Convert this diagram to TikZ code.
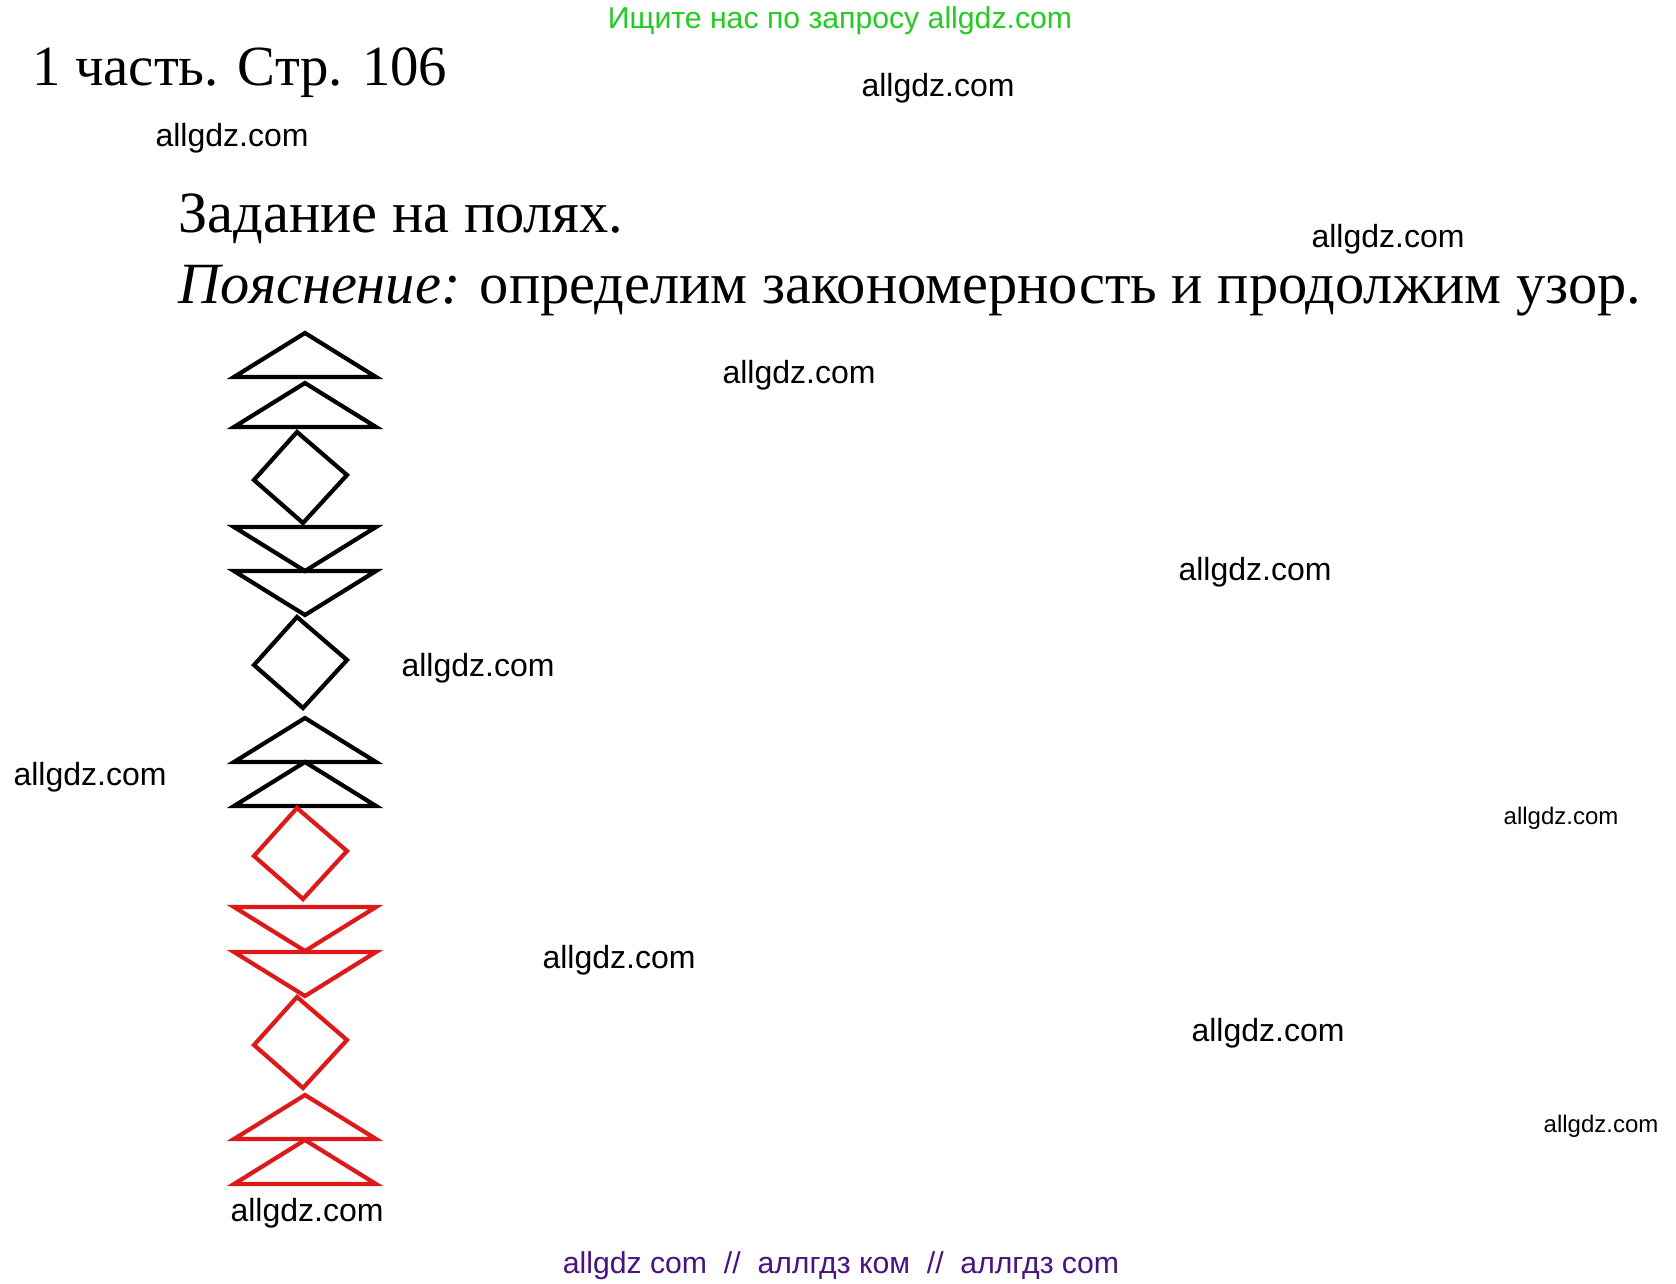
\documentclass[tikz,border=0pt]{standalone}
\usepackage{fontspec}
\setmainfont{Liberation Serif}
\newfontfamily\wmfont{Liberation Sans}

\definecolor{wmgreen}{HTML}{22CC22}
\definecolor{wmpurple}{HTML}{4A1382}
\definecolor{patred}{HTML}{DD1A1A}

\tikzset{
	patline/.style={line width=2.1pt, line join=miter},
	wmark/.style={font=\wmfont\fontsize{16}{16}\selectfont, inner sep=0pt},
	wmsmall/.style={font=\wmfont\fontsize{12}{12}\selectfont, inner sep=0pt},
	wmline/.style={font=\wmfont\fontsize{15.1}{15.1}\selectfont, inner sep=0pt},
	headtext/.style={anchor=base west, inner sep=0pt, font=\fontsize{28.4}{28.4}\selectfont},
	bodytext/.style={anchor=base west, inner sep=0pt, font=\fontsize{29.2}{29.2}\selectfont}
}

\newcommand{\uptri}[2]{
	\pgfmathsetmacro{\UTa}{#1}
	\pgfmathsetmacro{\UTb}{#1+44}
	\draw[patline, color=#2] (305, \UTa) -- (376, \UTb) -- (234, \UTb) -- cycle;
}
\newcommand{\downtri}[2]{
	\pgfmathsetmacro{\DTa}{#1}
	\pgfmathsetmacro{\DTb}{#1+44}
	\draw[patline, color=#2] (234, \DTa) -- (376, \DTa) -- (305, \DTb) -- cycle;
}
\newcommand{\rhomb}[2]{
	\pgfmathsetmacro{\RHa}{#1}
	\draw[patline, color=#2] (297, \RHa) -- (347, \RHa+43) -- (303, \RHa+91) -- (254, \RHa+48) -- cycle;
}

\begin{document}
\begin{tikzpicture}[x=0.5pt, y=-0.5pt]
\useasboundingbox[fill=white] (0,0) rectangle (1676,1284);

\node[wmline, text=wmgreen] (search) at (840, 21) {Ищите нас по запросу allgdz.com};

\node[headtext] (part) at (32, 86) {1 часть. Стр. 106};
\node[bodytext] (task) at (178, 232) {Задание на полях.};
\node[bodytext] (note) at (178, 303) {\textit{Пояснение:} определим закономерность и продолжим узор.};

% black part of the pattern
\uptri{333}{black}
\uptri{383}{black}
\rhomb{432}{black}
\downtri{527}{black}
\downtri{571}{black}
\rhomb{617}{black}
\uptri{718}{black}
\uptri{762}{black}

% continued in red
\rhomb{808}{patred}
\downtri{907}{patred}
\downtri{952}{patred}
\rhomb{997}{patred}
\uptri{1095}{patred}
\uptri{1140}{patred}

\foreach \wx/\wy [count=\wi] in {938/88, 232/138, 1388/239, 799/375, 1255/572, 478/668, 90/777, 619/960, 1268/1033, 307/1213}
	\node[wmark] (wm\wi) at (\wx, \wy) {allgdz.com};
\node[wmsmall] (wmsa) at (1561, 818) {allgdz.com};
\node[wmsmall] (wmsb) at (1601, 1126) {allgdz.com};

\node[wmline, text=wmpurple] (mirrors) at (841, 1266) {allgdz com~~//~~аллгдз ком~~//~~аллгдз com};
\end{tikzpicture}
\end{document}
